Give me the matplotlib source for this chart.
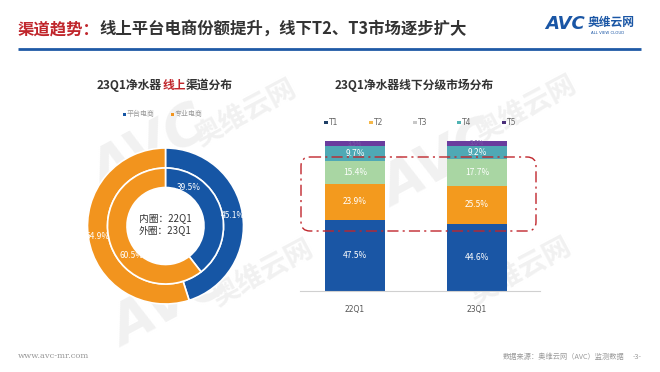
import matplotlib
matplotlib.use("Agg")
import matplotlib.pyplot as plt
from matplotlib.patches import FancyBboxPatch, Rectangle
import numpy as np

plt.rcParams['font.family'] = ['Noto Sans CJK SC', 'DejaVu Sans']

# ---------------- data ----------------
pie_labels = ["平台电商", "专业电商"]
outer_23q1 = [45.1, 54.9]
inner_22q1 = [39.5, 60.5]
pie_colors = ["#1656a5", "#f2941e"]

bar_cats = ["22Q1", "23Q1"]
tiers = ["T1", "T2", "T3", "T4", "T5"]
tier_values = {
    "T1": [47.5, 44.6],
    "T2": [23.9, 25.5],
    "T3": [15.4, 17.7],
    "T4": [9.7, 9.2],
    "T5": [3.5, 3.0],
}
tier_colors = ["#1a56a5", "#f39a1e", "#a9d6a3", "#4fa9b5", "#6a3c9e"]
legend_colors = ["#1f3f66", "#f5b84a", "#c8c8c8", "#4fb3b3", "#4a2f7a"]

W, H = 660, 372
fig = plt.figure(figsize=(W / 100, H / 100), dpi=100)
fig.patch.set_facecolor("white")
renderer = fig.canvas.get_renderer()


def fx(px):
    return px / W


def fy(py):
    return 1 - py / H


def pixel_axes(z):
    a = fig.add_axes([0, 0, 1, 1], zorder=z)
    a.set_xlim(0, W)
    a.set_ylim(H, 0)
    a.axis("off")
    return a


# ---------- watermark layer ----------
wmax = pixel_axes(-1)
wm = "#f1f1f1"
for (x, y) in [(150, 150), (440, 165), (170, 305)]:
    wmax.text(x, y, "AVC", fontsize=40, fontweight="bold", color=wm,
              rotation=28, ha="center", va="center", fontstyle="italic",
              family="DejaVu Sans")
for (x, y) in [(245, 112), (525, 108), (262, 272), (520, 270)]:
    wmax.text(x, y, "奥维云网", fontsize=20, fontweight="bold", color=wm,
              rotation=28, ha="center", va="center")

# ---------- text layer ----------
bg = pixel_axes(0)


def seq_text(ax, x, y, parts, **kw):
    """Draw consecutive text pieces left-to-right in pixel coords."""
    for s, color in parts:
        t = ax.text(x, y, s, color=color, ha="left", va="center", **kw)
        bb = t.get_window_extent(renderer=renderer)
        x += bb.width
    return x


# header
seq_text(bg, 18, 29, [("渠道趋势：", "#c0262c"),
                      ("线上平台电商份额提升，线下T2、T3市场逐步扩大", "#333333")],
         fontsize=11.8, fontweight="bold")
bg.plot([18, 641], [48.5, 48.5], color="#1f5aa6", lw=2, solid_capstyle="butt")

# logo
bg.text(545, 24, "AVC", fontsize=13, fontweight="bold", color="#1a56a5",
        ha="left", va="center", fontstyle="italic", family="DejaVu Sans")
bg.text(588, 22, "奥维云网", fontsize=8.5, fontweight="bold", color="#1a56a5",
        ha="left", va="center")
bg.text(608, 33, "ALL VIEW CLOUD", fontsize=2.8, color="#1a56a5",
        ha="center", va="center", family="DejaVu Sans")

# chart titles
seq_text(bg, 97, 85, [("23Q1净水器", "#333333"), ("线上", "#c0262c"),
                      ("渠道分布", "#333333")], fontsize=8.5, fontweight="bold")
bg.text(414, 85, "23Q1净水器线下分级市场分布", fontsize=8.5, fontweight="bold",
        color="#333333", ha="center", va="center")

# pie legend
for (x, lab, c) in [(126, pie_labels[0], pie_colors[0]), (174, pie_labels[1], pie_colors[1])]:
    bg.add_patch(Rectangle((x - 3.5, 112.5), 3, 3, color=c, lw=0))
    bg.text(x + 1, 114, lab, fontsize=5, color="#9a9a9a", ha="left", va="center")

# bar legend
leg_x = [326, 371, 415, 459, 504]
for x, t, c in zip(leg_x, tiers, legend_colors):
    bg.add_patch(Rectangle((x - 2, 120.5), 3.5, 3.5, color=c, lw=0))
    bg.text(x + 3, 122.2, t, fontsize=5.5, color="#666666", ha="left", va="center",
            family="DejaVu Sans")

# footer
bg.text(18, 356, "www.avc-mr.com", fontsize=6, color="#999999", ha="left",
        va="center", family="DejaVu Serif")
bg.text(503, 357, "数据来源：奥维云网（AVC）监测数据", fontsize=5.2, color="#9a9a9a",
        ha="left", va="center")
bg.text(633, 357, "-3-", fontsize=5.2, color="#9a9a9a", ha="left", va="center")

# ---------- donut ----------
cx, cy, R = 165.5, 226, 80
pax = fig.add_axes([fx(cx - R), fy(cy + R), 2 * R / W, 2 * R / H], zorder=1)
pax.axis("off")
r_out, r_mid, r_in = 78, 58, 38.5
pax.pie(outer_23q1, radius=r_out, colors=pie_colors, startangle=90, counterclock=False,
        wedgeprops=dict(width=r_out - r_mid, edgecolor="white", linewidth=1.2))
pax.pie(inner_22q1, radius=r_mid, colors=pie_colors, startangle=90, counterclock=False,
        wedgeprops=dict(width=r_mid - r_in, edgecolor="white", linewidth=1.2))
pax.set_xlim(-R, R)
pax.set_ylim(-R, R)
pax.set_aspect("equal")


def place(vals, rad, idx, frac_pos):
    start = 90 - sum(vals[:idx]) * 3.6
    ang = np.deg2rad(start - vals[idx] * 3.6 * frac_pos)
    return rad * np.cos(ang), rad * np.sin(ang)


lbl = dict(fontsize=6, color="white", ha="center", va="center")
x, y = place(outer_23q1, 68, 0, 0.5)
pax.text(x, y, f"{outer_23q1[0]}%", **lbl)
x, y = place(outer_23q1, 68, 1, 0.5)
pax.text(x, y, f"{outer_23q1[1]}%", **lbl)
x, y = place(inner_22q1, 45, 0, 0.22)
pax.text(x, y, f"{inner_22q1[0]}%", **lbl)
x, y = place(inner_22q1, 45, 1, 0.40)
pax.text(x, y, f"{inner_22q1[1]}%", **lbl)
pax.text(0, 7.5, "内圈：22Q1", fontsize=7, color="#333333", ha="center", va="center")
pax.text(0, -4.5, "外圈：23Q1", fontsize=7, color="#333333", ha="center", va="center")

# ---------- stacked bars ----------
left_px, right_px, top_px, bot_px = 300, 540, 141, 291
bax = fig.add_axes([fx(left_px), fy(bot_px), (right_px - left_px) / W, (bot_px - top_px) / H],
                   zorder=1)
bax.patch.set_alpha(0)
spacing = 122.0
bax.set_xlim(-55 / spacing, 1 + 63 / spacing)
bax.set_ylim(0, 100)
xs = np.arange(len(bar_cats))
bottom = np.zeros(len(bar_cats))
for t, c in zip(tiers, tier_colors):
    vals = np.array(tier_values[t])
    bax.bar(xs, vals, bottom=bottom, width=60 / spacing, color=c, lw=0)
    for xi, v, b in zip(xs, vals, bottom):
        if t != "T5":
            bax.text(xi, b + v / 2, f"{v}%", fontsize=6, color="white",
                     ha="center", va="center")
        else:
            bax.text(xi, b + v / 2, f"{v}%", fontsize=4.5, color="#7a5aa8",
                     ha="center", va="center")
    bottom = bottom + vals
for s in ["top", "right", "left"]:
    bax.spines[s].set_visible(False)
bax.spines["bottom"].set_color("#d0d0d0")
bax.set_yticks([])
bax.set_xticks(xs)
bax.set_xticklabels(bar_cats, fontsize=5.5, color="#555555", family="DejaVu Sans")
bax.tick_params(axis="x", length=0, pad=10)

# ---------- dash-dot highlight box (overlay) ----------
ov = pixel_axes(3)
ov.add_patch(FancyBboxPatch((301, 157), 235, 74,
                            boxstyle="round,pad=0,rounding_size=9",
                            fill=False, edgecolor="#c0262c", lw=1.0,
                            linestyle=(0, (8, 3, 1.5, 3))))

fig.savefig("out.png", dpi=100, facecolor="white")
